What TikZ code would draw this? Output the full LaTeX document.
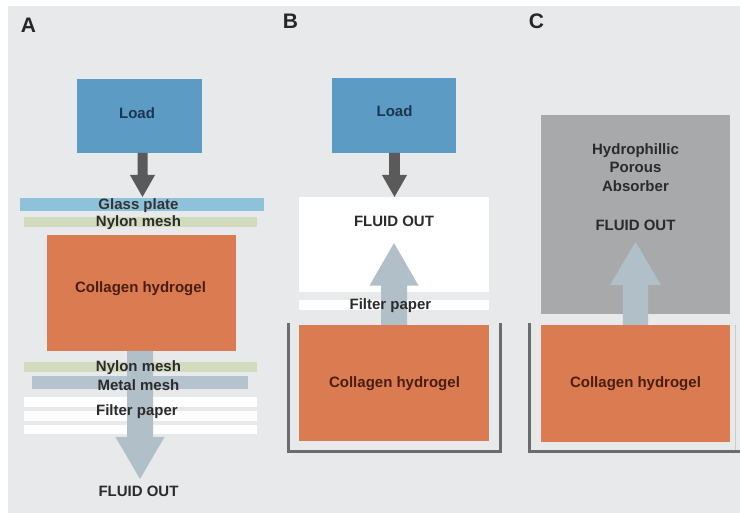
\documentclass[tikz,border=0pt]{standalone}
\usepackage{fontspec}
\setmainfont{Liberation Sans}
\usetikzlibrary{calc,fit}

\definecolor{bggrey}{HTML}{E8E9EB}
\definecolor{loadblue}{HTML}{5B9BC4}
\definecolor{loadtext}{HTML}{1D3552}
\definecolor{glassblue}{HTML}{8EC1DA}
\definecolor{nylongreen}{HTML}{D3DBBE}
\definecolor{gelorange}{HTML}{DB7B52}
\definecolor{geltext}{HTML}{4A1E0E}
\definecolor{metalgrey}{HTML}{B5C3CF}
\definecolor{flowgrey}{HTML}{B1BFC9}
\definecolor{pressgrey}{HTML}{5A5A5A}
\definecolor{absorbgrey}{HTML}{A8A9AB}
\definecolor{wallgrey}{HTML}{6B6C6E}
\definecolor{txtgrey}{HTML}{2B2B2B}

% vertical block arrow: fill, start (only its y is used), tip,
% shaft half width, head half width, head length
% (head length positive for a downward arrow, negative for an upward one)
\newcommand{\blockarrow}[6]{%
  \fill[#1] let \p1=(#2), \p2=(#3) in
    ({\x2-#4},{\y1}) -- ({\x2-#4},{\y2+#6}) -- ({\x2-#5},{\y2+#6})
    -- (\x2,\y2) -- ({\x2+#5},{\y2+#6}) -- ({\x2+#4},{\y2+#6})
    -- ({\x2+#4},{\y1}) -- cycle;}

\begin{document}
\begin{tikzpicture}[x=0.75pt,y=-0.75pt,
  slab/.style={inner sep=0pt, outer sep=0pt, draw=none, fill=#1},
  lbl/.style={font=\bfseries\fontsize{11.25}{13.9}\selectfont, text=txtgrey,
    inner sep=0pt, text height=8.05pt, text depth=0pt},
  panel/.style={font=\bfseries\fontsize{15.75}{18}\selectfont,
    text=black!85, inner sep=0pt, text height=11.3pt, text depth=0pt},
  wall/.style={draw=wallgrey, line width=2.25pt},
]
\useasboundingbox (0,0) rectangle (740,513);
\fill[white] (0,0) rectangle (740,513);
\fill[bggrey] (8,6) rectangle (740,513);

% ---------------- panel A: filtration stack ----------------
\node[slab=loadblue, fit={(77,79) (202,153)}] (loadA) {};
\node[slab=glassblue, fit={(20,198) (264,211)}] (glassA) {};
\node[slab=nylongreen, fit={(24,217) (257,227)}] (nylonA1) {};
\node[slab=gelorange, fit={(47,235) (236,351)}] (gelA) {};
\node[slab=nylongreen, fit={(24,362) (257,372)}] (nylonA2) {};
\node[slab=metalgrey, fit={(32,376) (248,389)}] (metalA) {};
\node[slab=white, fit={(24,397) (257,407)}] (filterA1) {};
\node[slab=white, fit={(24,411) (257,421)}] (filterA2) {};
\node[slab=white, fit={(24,425) (257,434)}] (filterA3) {};
\coordinate (pressA) at (142.5,197);
\coordinate (drainA) at (140,479);
\coordinate (axisA) at (138.5,0);

\blockarrow{pressgrey}{loadA.south}{pressA}{3.75pt}{9.4pt}{16.5pt}
\blockarrow{flowgrey}{gelA.south}{drainA}{9.75pt}{18.4pt}{31.5pt}

\node[panel] (tagA) at (28.5,24.5) {A};
\node[lbl, text=loadtext] (loadAtxt) at (137,113.5) {Load};
\node[lbl, text=black!80] (glassAtxt) at (glassA.center -| axisA) {Glass plate};
\node[lbl] (nylonA1txt) at (138.5,221.5) {Nylon mesh};
\node[lbl, text=geltext] (gelAtxt) at (140.5,287.5) {Collagen hydrogel};
\node[lbl] (nylonA2txt) at (138.5,366) {Nylon mesh};
\node[lbl] (metalAtxt) at (138.5,385) {Metal mesh};
\node[lbl] (filterAtxt) at (137,410) {Filter paper};
\node[lbl] (outAtxt) at (138.5,491) {FLUID OUT};

% ---------------- panel B: pressing into a dish ----------------
\node[slab=loadblue, fit={(332,78) (456,153)}] (loadB) {};
\node[slab=white, fit={(299,197) (489,292)}] (outB) {};
\node[slab=white, fit={(299,300.5) (489,310)}] (filterB) {};
\node[slab=gelorange, fit={(299,325) (489,441)}] (gelB) {};
\draw[wall] (288,323) coordinate (wallBl) -- (288,451.5) -- (500,451.5) -- (500,323) coordinate (wallBr);
\coordinate (pressB) at (394.5,197);
\coordinate (riseB) at (394,243);

\blockarrow{pressgrey}{loadB.south}{pressB}{4.1pt}{9.4pt}{16.5pt}
\blockarrow{flowgrey}{gelB.north}{riseB}{9.75pt}{18.4pt}{-32pt}

\node[panel] (tagB) at (290.5,20.5) {B};
\node[lbl, text=loadtext] (loadBtxt) at (394.5,111.5) {Load};
\node[lbl] (outBtxt) at (394,221.5) {FLUID OUT};
\node[lbl] (filterBtxt) at (390.5,304.5) {Filter paper};
\node[lbl, text=geltext] (gelBtxt) at (394.5,382) {Collagen hydrogel};

% ---------------- panel C: wicking absorber ----------------
\node[slab=absorbgrey, fit={(541,115) (729.5,314)}] (absC) {};
\node[slab=gelorange, fit={(541,325) (729.5,442)}] (gelC) {};
\draw[wall] (529,323) coordinate (wallCl) -- (529,451.5) -- (740,451.5);
\draw[wallgrey!35, line width=1.2pt] (735.5,325) -- (735.5,450.5);
\coordinate (riseC) at (635.5,242);

\blockarrow{flowgrey}{gelC.north}{riseC}{9.4pt}{19.1pt}{-32.25pt}

\node[panel] (tagC) at (536.5,20.5) {C};
\node[lbl, align=center, text height=, text depth=] (absCtxt) at (635.5,167.5)
  {Hydrophillic\\Porous\\Absorber};
\node[lbl] (outCtxt) at (635.5,225) {FLUID OUT};
\node[lbl, text=geltext] (gelCtxt) at (635.5,382.5) {Collagen hydrogel};
\end{tikzpicture}
\end{document}
